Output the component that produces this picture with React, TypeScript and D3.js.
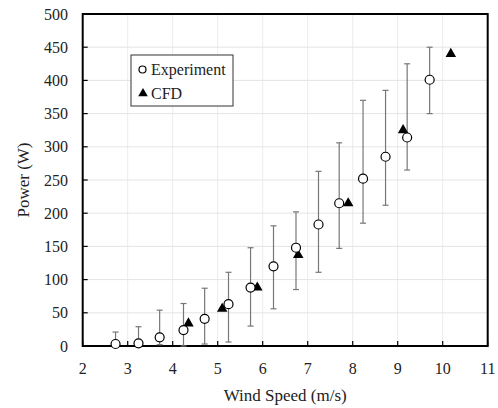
import React from "react";
import * as d3 from "d3";

const expX = [2.73, 3.24, 3.71, 4.24, 4.71, 5.24, 5.73, 6.24, 6.74, 7.24, 7.7, 8.23, 8.73, 9.21, 9.71];
const expY = [3, 4, 13, 24, 41, 63, 88, 120, 148, 183, 215, 252, 285, 314, 401];
const expHi = [21, 29, 54, 64, 87, 111, 148, 181, 202, 263, 306, 370, 385, 425, 450];
const expLo = [0, 0, 2, 0, 3, 6, 30, 56, 85, 111, 147, 185, 212, 265, 350];

const cfdX = [4.35, 5.1, 5.88, 6.79, 7.9, 9.12, 10.18];
const cfdY = [34, 56, 88, 137, 215, 325, 440];

const xTicks = [2, 3, 4, 5, 6, 7, 8, 9, 10, 11];
const yTicks = [0, 50, 100, 150, 200, 250, 300, 350, 400, 450, 500];

const W = 498;
const H = 408;
const left = 82.7;
const right = 487.7;
const top = 14;
const bottom = 346;
const FONT = "'Liberation Serif', 'Times New Roman', serif";

export default function App() {
  const x = d3.scaleLinear().domain([2, 11]).range([left, right]);
  const y = d3.scaleLinear().domain([0, 500]).range([bottom, top]);
  const tri = d3.symbol().type(d3.symbolTriangle).size(48)() as string;
  const triLegend = d3.symbol().type(d3.symbolTriangle).size(40)() as string;

  return (
    <svg
      width={W}
      height={H}
      style={{ position: "absolute", left: 0, top: 0, background: "#fff" }}
      fontFamily={FONT}
    >
      <rect x={0} y={0} width={W} height={H} fill="#fff" />
      {/* grid */}
      {xTicks.slice(1, -1).map((t) => (
        <line key={"gx" + t} x1={x(t)} x2={x(t)} y1={top} y2={bottom} stroke="#ececec" strokeWidth={1} />
      ))}
      {yTicks.slice(1, -1).map((t) => (
        <line key={"gy" + t} x1={left} x2={right} y1={y(t)} y2={y(t)} stroke="#e4e4e4" strokeWidth={1} />
      ))}
      {/* ticks */}
      {xTicks.map((t) => (
        <line key={"tx" + t} x1={x(t)} x2={x(t)} y1={bottom} y2={bottom - 5} stroke="#000" strokeWidth={1.2} />
      ))}
      {yTicks.map((t) => (
        <line key={"ty" + t} x1={left} x2={left + 5} y1={y(t)} y2={y(t)} stroke="#000" strokeWidth={1.2} />
      ))}
      {/* frame */}
      <rect x={left} y={top} width={right - left} height={bottom - top} fill="none" stroke="#000" strokeWidth={2} />
      {/* tick labels */}
      {xTicks.map((t) => (
        <text key={"lx" + t} x={x(t)} y={374} textAnchor="middle" fontSize={16} fill="#222">
          {t}
        </text>
      ))}
      {yTicks.map((t) => (
        <text key={"ly" + t} x={68} y={y(t) + 5.5} textAnchor="end" fontSize={16} fill="#222">
          {t}
        </text>
      ))}
      {/* axis titles */}
      <text x={(left + right) / 2} y={401} textAnchor="middle" fontSize={17} fill="#222">
        Wind Speed (m/s)
      </text>
      <text
        transform={`translate(29,${(top + bottom) / 2}) rotate(-90)`}
        textAnchor="middle"
        fontSize={17}
        fill="#222"
      >
        Power (W)
      </text>
      {/* error bars */}
      {expX.map((v, i) => (
        <g key={"e" + i} stroke="#777" strokeWidth={1.2}>
          <line x1={x(v)} x2={x(v)} y1={y(expLo[i])} y2={y(expHi[i])} />
          <line x1={x(v) - 3} x2={x(v) + 3} y1={y(expHi[i])} y2={y(expHi[i])} />
          <line x1={x(v) - 3} x2={x(v) + 3} y1={y(expLo[i])} y2={y(expLo[i])} />
        </g>
      ))}
      {/* CFD */}
      {cfdX.map((v, i) => (
        <path key={"c" + i} d={tri} transform={`translate(${x(v)},${y(cfdY[i])})`} fill="#000" />
      ))}
      {/* experiment */}
      {expX.map((v, i) => (
        <circle key={"p" + i} cx={x(v)} cy={y(expY[i])} r={4.5} fill="#fff" stroke="#000" strokeWidth={1.2} />
      ))}
      {/* legend */}
      <rect x={131} y={55} width={102} height={51} fill="#fff" stroke="#333" strokeWidth={1} />
      <circle cx={142.5} cy={69.5} r={3.5} fill="#fff" stroke="#000" strokeWidth={1.2} />
      <text x={151} y={75} fontSize={16} fill="#222">
        Experiment
      </text>
      <path d={triLegend} transform="translate(143,93.5)" fill="#000" />
      <text x={151} y={99} fontSize={16} fill="#222">
        CFD
      </text>
    </svg>
  );
}
